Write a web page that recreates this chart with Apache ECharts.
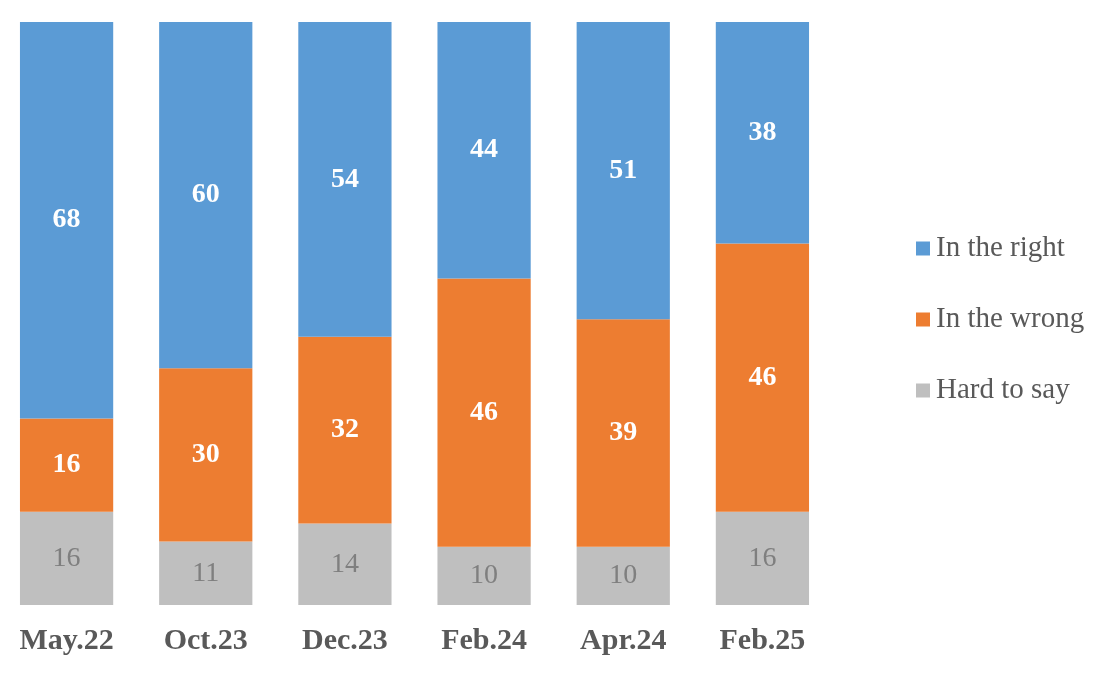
<!DOCTYPE html>
<html>
<head>
<meta charset="utf-8">
<script src="https://cdn.jsdelivr.net/npm/echarts@6/dist/echarts.min.js"></script>
<style>html,body{margin:0;padding:0;background:#fff;overflow:hidden}#c{position:relative;left:-4px;width:1110px;height:675px}</style>
</head>
<body>
<div id="c"></div>
<script>
var categories = ['May.22', 'Oct.23', 'Dec.23', 'Feb.24', 'Apr.24', 'Feb.25'];
var hardToSay = [16, 11, 14, 10, 10, 16];
var inTheWrong = [16, 30, 32, 46, 39, 46];
var inTheRight = [68, 60, 54, 44, 51, 38];

var totals = categories.map(function (c, i) { return hardToSay[i] + inTheWrong[i] + inTheRight[i]; });
function pct(arr) {
  return arr.map(function (v, i) { return { value: v / totals[i] * 100, raw: v }; });
}
var serif = '"Liberation Serif", "Times New Roman", serif';
function mk(name, arr, color, labelColor, bold) {
  return {
    name: name, type: 'bar', stack: 'all', barCategoryGap: '33%',
    data: pct(arr),
    itemStyle: { color: color },
    label: {
      show: true, position: 'inside', color: labelColor,
      fontFamily: serif, fontSize: 28, fontWeight: bold ? 'bold' : 'normal',
      formatter: function (p) { return p.data.raw; }
    }
  };
}
var chart = echarts.init(document.getElementById('c'));
chart.setOption({
  animation: false,
  grid: { left: 1, right: 274, top: 22, bottom: 70 },
  legend: {
    orient: 'vertical', left: 915, top: 229, itemWidth: 14, itemHeight: 14, itemGap: 42,
    icon: 'rect',
    data: ['In the right', 'In the wrong', 'Hard to say'],
    textStyle: { fontFamily: serif, fontSize: 29, color: '#595959', padding: [0, 0, 0, 1] }
  },
  xAxis: {
    type: 'category', data: categories,
    axisLine: { show: false }, axisTick: { show: false },
    axisLabel: { fontFamily: serif, fontSize: 30, fontWeight: 'bold', color: '#595959', margin: 21 }
  },
  yAxis: { type: 'value', min: 0, max: 100, show: false, splitLine: { show: false } },
  series: [
    mk('Hard to say', hardToSay, '#BFBFBF', '#7F7F7F', false),
    mk('In the wrong', inTheWrong, '#ED7D31', '#FFFFFF', true),
    mk('In the right', inTheRight, '#5B9BD5', '#FFFFFF', true)
  ]
});
</script>
</body>
</html>
